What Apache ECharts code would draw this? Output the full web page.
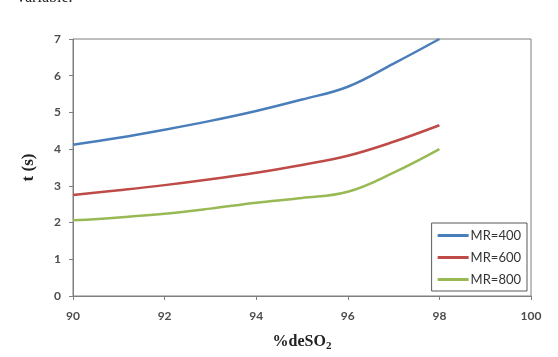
<!DOCTYPE html>
<html>
<head>
<meta charset="utf-8">
<script src="https://cdn.jsdelivr.net/npm/echarts@6/dist/echarts.min.js"></script>
<style>
  html, body { margin: 0; padding: 0; background: #fff; }
  #chart { width: 558px; height: 357px; }
</style>
</head>
<body>
<div id="chart"></div>
<script>
// %deSO2 values along the x axis
const deso2 = [90, 91, 92, 93, 94, 95, 96, 97, 98]
const mr400 = [4.12, 4.31, 4.53, 4.77, 5.04, 5.35, 5.7, 6.33, 7.0]
const mr600 = [2.75, 2.88, 3.02, 3.18, 3.36, 3.57, 3.82, 4.2, 4.65]
const mr800 = [2.06, 2.14, 2.24, 2.38, 2.54, 2.67, 2.84, 3.36, 4.0]
const seriesNames = ['MR=400', 'MR=600', 'MR=800']
const colors = ['#4a7ebb', '#be4b48', '#98b954']

const pairs = (ys) => deso2.map((x, i) => [x, ys[i]])
const tickFont = { fontFamily: 'Lato', fontSize: 12, fontWeight: 'bold', color: '#4d4d4d' }

const makeLine = (name, ys, color) => ({
  name: name,
  type: 'line',
  smooth: 0.4,
  showSymbol: false,
  data: pairs(ys),
  lineStyle: { color: color, width: 2.5 },
  itemStyle: { color: color }
})

const myChart = echarts.init(document.getElementById('chart'), null, { renderer: 'canvas' })

const option = {
  animation: false,
  backgroundColor: '#fff',
  graphic: [{
    type: 'text',
    left: 17,
    top: -10,
    style: { text: 'variable.', font: '16px "Liberation Serif"', fill: '#222' }
  }],
  grid: {
    left: 73,
    right: 27,
    top: 39,
    bottom: 60,
    show: true,
    borderColor: '#7f7f7f',
    borderWidth: 1
  },
  legend: {
    orient: 'vertical',
    right: 31,
    top: 223,
    data: seriesNames,
    icon: 'rect',
    itemWidth: 31,
    itemHeight: 3,
    itemGap: 9,
    padding: [6, 6, 5, 6],
    borderColor: '#595959',
    borderWidth: 1,
    textStyle: { fontFamily: 'Lato', fontSize: 13, color: '#333', padding: [0, 0, 0, -3] }
  },
  xAxis: {
    type: 'value',
    min: 90,
    max: 100,
    interval: 2,
    name: '{a|%deSO}{s|2}',
    nameLocation: 'middle',
    nameGap: 36,
    nameTextStyle: {
      rich: {
        a: { fontFamily: 'Liberation Serif', fontWeight: 'bold', fontSize: 16, color: '#222' },
        s: { fontFamily: 'Liberation Serif', fontWeight: 'bold', fontSize: 11, color: '#222', padding: [9, 0, 0, 0] }
      }
    },
    axisLine: { lineStyle: { color: '#7f7f7f' } },
    axisTick: { length: 4, lineStyle: { color: '#7f7f7f' } },
    axisLabel: Object.assign({ margin: 14 }, tickFont),
    splitLine: { show: false }
  },
  yAxis: {
    type: 'value',
    min: 0,
    max: 7,
    interval: 1,
    name: 't (s)',
    nameLocation: 'middle',
    nameGap: 36,
    nameTextStyle: { fontFamily: 'Liberation Serif', fontWeight: 'bold', fontSize: 17, color: '#222' },
    axisLine: { show: true, lineStyle: { color: '#7f7f7f' } },
    axisTick: { show: true, length: 4, lineStyle: { color: '#7f7f7f' } },
    axisLabel: Object.assign({ margin: 12 }, tickFont),
    splitLine: { show: false }
  },
  series: [
    makeLine(seriesNames[0], mr400, colors[0]),
    makeLine(seriesNames[1], mr600, colors[1]),
    makeLine(seriesNames[2], mr800, colors[2])
  ]
}

myChart.setOption(option)
</script>
</body>
</html>
